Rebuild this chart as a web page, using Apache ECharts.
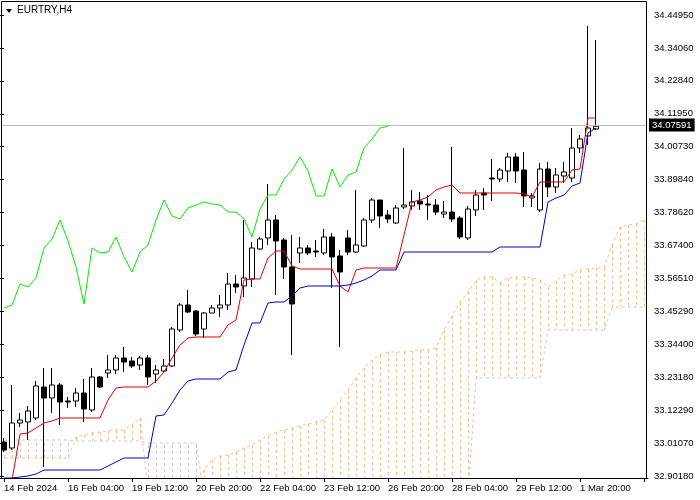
<!DOCTYPE html>
<html>
<head>
<meta charset="utf-8">
<title>EURTRY,H4</title>
<script src="https://cdn.jsdelivr.net/npm/echarts@6/dist/echarts.min.js"></script>
<style>
  html, body { margin: 0; padding: 0; background: #fff; }
  #chart { width: 700px; height: 500px; }
</style>
</head>
<body>
<div id="chart"></div>
<script>
// time axis labels, one every 8 bars (H4)
const tickLabels = ['14 Feb 2024', '16 Feb 04:00', '19 Feb 12:00', '20 Feb 20:00', '22 Feb 04:00',
  '23 Feb 12:00', '26 Feb 20:00', '28 Feb 04:00', '29 Feb 12:00', '1 Mar 20:00']
// price scale labels, bottom to top
const priceTicks = ['32.90180', '33.01070', '33.12290', '33.23180', '33.34400', '33.45290', '33.56510',
  '33.67400', '33.78620', '33.89840', '34.00730', '34.11950', '34.22840', '34.34060', '34.44950']
const lastPrice = 34.07591
const barCount = 81 // 75 candles + room for the shifted cloud

const opens = [33.0160, 32.9958, 33.0797, 33.0831, 33.0965, 33.2006, 33.1637, 33.2073, 33.1536, 33.1536,
  33.1805, 33.1234, 33.2342, 33.2476, 33.2577, 33.2980, 33.2879, 33.2745, 33.2980, 33.2442,
  33.2543, 33.2711, 33.3920, 33.4759, 33.4558, 33.3953, 33.4490, 33.4658, 33.4759, 33.5464,
  33.5397, 33.5632, 33.6639, 33.7008, 33.7613, 33.6941, 33.6035, 33.6505, 33.6673, 33.6572,
  33.6505, 33.7042, 33.6404, 33.7008, 33.6538, 33.6740, 33.7613, 33.8284, 33.7781, 33.7512,
  33.8049, 33.8083, 33.8251, 33.8150, 33.8116, 33.7814, 33.7881, 33.7680, 33.7008, 33.7948,
  33.8519, 33.9023, 33.8989, 33.9258, 33.9728, 33.9291, 33.8351, 33.7948, 33.9325, 33.8721,
  33.9090, 33.9023, 34.0030, 34.0433, 34.0668]
const closes = [32.9891, 33.0797, 33.0898, 33.1200, 33.2040, 33.1637, 33.2073, 33.1502, 33.1502, 33.1805,
  33.1267, 33.2342, 33.2006, 33.2577, 33.2980, 33.2845, 33.2711, 33.2980, 33.2342, 33.2577,
  33.2711, 33.3953, 33.4759, 33.4524, 33.3785, 33.4490, 33.4658, 33.4759, 33.5464, 33.5363,
  33.5666, 33.6673, 33.6975, 33.7613, 33.6908, 33.6035, 33.4793, 33.6673, 33.6505, 33.6538,
  33.7042, 33.6371, 33.5867, 33.6538, 33.6773, 33.7613, 33.8284, 33.7747, 33.7646, 33.8016,
  33.8116, 33.8217, 33.8150, 33.8116, 33.7881, 33.7881, 33.7646, 33.7042, 33.7982, 33.8452,
  33.8452, 33.8989, 33.9291, 33.9728, 33.9258, 33.8418, 33.8418, 33.9325, 33.8721, 33.9124,
  33.9224, 34.0030, 34.0332, 34.0701, 34.07591]
const lows = [32.9824, 32.9891, 33.0663, 33.0227, 33.0898, 32.9320, 33.1133, 33.0730, 33.1301, 33.1335,
  33.0831, 33.1167, 33.1972, 33.2308, 33.2442, 33.2510, 33.2644, 33.2577, 33.2073, 33.2140,
  33.2476, 33.2678, 33.3853, 33.4490, 33.3718, 33.3651, 33.4490, 33.4356, 33.4591, 33.5162,
  33.5028, 33.5363, 33.6606, 33.6773, 33.5095, 33.5632, 33.3080, 33.6169, 33.6438, 33.6371,
  33.6438, 33.5330, 33.3349, 33.6438, 33.6505, 33.6706, 33.7512, 33.7344, 33.7512, 33.7478,
  33.7982, 33.7948, 33.7948, 33.7613, 33.7781, 33.7680, 33.7546, 33.6975, 33.6941, 33.7747,
  33.7948, 33.8251, 33.8889, 33.8889, 33.8855, 33.8049, 33.8049, 33.7881, 33.8385, 33.8519,
  33.8855, 33.8889, 33.9862, 34.0131, 34.0634]
const highs = [33.0294, 33.2073, 33.1133, 33.1368, 33.2207, 33.2644, 33.2644, 33.2140, 33.1670, 33.1972,
  33.2275, 33.2644, 33.2375, 33.3080, 33.3080, 33.3349, 33.3013, 33.3047, 33.3080, 33.2745,
  33.2946, 33.4020, 33.4826, 33.5263, 33.4591, 33.4524, 33.4759, 33.5095, 33.5833, 33.5766,
  33.7613, 33.6874, 33.7042, 33.8821, 33.7781, 33.7008, 33.7109, 33.7042, 33.6773, 33.6941,
  33.7311, 33.7176, 33.6606, 33.7277, 33.8620, 33.7680, 33.8351, 33.8284, 33.7948, 33.8116,
  34.0030, 33.8620, 33.8553, 33.8452, 33.8318, 33.8251, 34.0064, 33.7747, 33.8083, 33.8620,
  33.8687, 33.9661, 33.9359, 33.9862, 33.9862, 33.9896, 33.8519, 33.9526, 33.9560, 33.9359,
  33.9560, 34.0701, 34.0466, 34.4126, 34.3656]

// Ichimoku lines
const tenkan = [32.8380, 32.8884, 33.0428, 33.0462, 33.0630, 33.0797, 33.0865, 33.0965, 33.0965, 33.0965,
  33.0965, 33.0965, 33.0965, 33.1570, 33.1972, 33.2006, 33.2006, 33.2006, 33.2006, 33.2207,
  33.2510, 33.2980, 33.3416, 33.3651, 33.3685, 33.3685, 33.3685, 33.3685, 33.4088, 33.4255,
  33.5598, 33.5632, 33.5632, 33.6337, 33.6572, 33.6572, 33.6068, 33.5968, 33.5968, 33.5968,
  33.5968, 33.5968, 33.5397, 33.5195, 33.5934, 33.6001, 33.6001, 33.6001, 33.6001, 33.6001,
  33.7109, 33.8217, 33.8284, 33.8385, 33.8620, 33.8721, 33.8788, 33.8519, 33.8519, 33.8519,
  33.8519, 33.8519, 33.8519, 33.8519, 33.8519, 33.8486, 33.8385, 33.8889, 33.8889, 33.8889,
  33.8889, 33.9291, 33.9325, 34.1037, 34.1037]
const kijun = [32.8951, 32.8951, 32.8984, 32.9018, 32.9085, 32.9219, 32.9219, 32.9219, 32.9219, 32.9219,
  32.9219, 32.9219, 32.9219, 32.9354, 32.9488, 32.9622, 32.9622, 32.9622, 32.9622, 33.1032,
  33.1066, 33.1469, 33.1905, 33.2207, 33.2275, 33.2275, 33.2275, 33.2275, 33.2510, 33.2577,
  33.3416, 33.4155, 33.4155, 33.4826, 33.4860, 33.4860, 33.5061, 33.5330, 33.5397, 33.5397,
  33.5397, 33.5397, 33.5397, 33.5430, 33.5498, 33.5598, 33.5733, 33.5934, 33.5934, 33.5934,
  33.6538, 33.6538, 33.6538, 33.6538, 33.6538, 33.6538, 33.6538, 33.6538, 33.6538, 33.6538,
  33.6538, 33.6538, 33.6706, 33.6706, 33.6706, 33.6706, 33.6706, 33.6706, 33.8217, 33.8351,
  33.8452, 33.8754, 33.8855, 34.0534, 34.0701]
const chikou = [33.4658, 33.4759, 33.5464, 33.5363, 33.5666, 33.6673, 33.6975, 33.7613, 33.6908, 33.6035,
  33.4793, 33.6673, 33.6505, 33.6538, 33.7042, 33.6371, 33.5867, 33.6538, 33.6773, 33.7613,
  33.8284, 33.7747, 33.7646, 33.8016, 33.8116, 33.8217, 33.8150, 33.8116, 33.7881, 33.7881,
  33.7646, 33.7042, 33.7982, 33.8452, 33.8452, 33.8989, 33.9291, 33.9728, 33.9258, 33.8418,
  33.8418, 33.9325, 33.8721, 33.9124, 33.9224, 34.0030, 34.0332, 34.0701, 34.0759]
const senkouA = [32.9622, 32.9622, 32.9622, 32.9622, 32.9622, 32.9622, 32.9622, 32.9622, 32.9622, 33.0327,
  33.0395, 33.0462, 33.0495, 33.0529, 33.0562, 33.0562, 33.0730, 33.0965, 32.8548, 32.8548,
  32.8548, 32.8548, 32.8548, 32.8548, 32.8548, 32.9219, 32.9555, 32.9689, 32.9723, 32.9824,
  32.9958, 33.0059, 33.0227, 33.0361, 33.0495, 33.0562, 33.0630, 33.0697, 33.0764, 33.0831,
  33.0898, 33.1234, 33.1570, 33.1905, 33.2308, 33.2644, 33.2913, 33.3080, 33.3181, 33.3181,
  33.3181, 33.3215, 33.3248, 33.3248, 33.3315, 33.3920, 33.4390, 33.4860, 33.5195, 33.5598,
  33.5699, 33.5699, 33.5498, 33.5666, 33.5699, 33.5699, 33.5666, 33.5598, 33.5363, 33.5565,
  33.5766, 33.5800, 33.5934, 33.5968, 33.6001, 33.6001, 33.6773, 33.7378, 33.7445, 33.7479,
  33.7613]
const senkouB = [33.0227, 33.0227, 33.0227, 33.0227, 33.0227, 33.0227, 33.0227, 33.0227, 33.0227, 33.0193,
  33.0193, 33.0193, 33.0193, 33.0193, 33.0193, 33.0193, 33.0193, 33.0193, 33.0126, 33.0126,
  33.0126, 33.0126, 33.0126, 33.0126, 33.0126, 32.8380, 32.8380, 32.8380, 32.8380, 32.8380,
  32.8380, 32.8380, 32.8380, 32.8380, 32.8380, 32.8380, 32.8380, 32.8380, 32.8380, 32.8380,
  32.8380, 32.8380, 32.8380, 32.8380, 32.8380, 32.8380, 32.8380, 32.8380, 32.8380, 32.8380,
  32.8380, 32.8380, 32.8380, 32.8380, 32.8380, 32.8380, 32.8380, 32.8380, 32.8380, 33.2308,
  33.2308, 33.2308, 33.2308, 33.2308, 33.2308, 33.2308, 33.2308, 33.2308, 33.3920, 33.3920,
  33.3920, 33.3920, 33.3920, 33.3920, 33.3920, 33.3920, 33.4658, 33.4692, 33.4692, 33.4692,
  33.4692]

const categories = []
for (let i = 0; i < barCount; i++) {
  categories.push(i % 8 === 0 && tickLabels[i / 8] ? tickLabels[i / 8] : '')
}
const candles = opens.map((o, i) => [o, closes[i], lows[i], highs[i]])
const cloud = senkouA.map((a, i) => [i, a, senkouB[i]])

const font = 'Liberation Sans'
const bull = 'rgba(244, 164, 96, 0.7)' // SandyBrown
const bear = 'rgba(200, 180, 200, 0.8)' // Thistle
const chart = echarts.init(document.getElementById('chart'))

chart.setOption({
  animation: false,
  backgroundColor: '#fff',
  textStyle: { fontFamily: font },
  graphic: [
    { type: 'rect', silent: true, z: 100,
      shape: { x: 1.5, y: 1.5, width: 645, height: 477 },
      style: { fill: null, stroke: '#000', lineWidth: 1 } },
    { type: 'polygon', silent: true, z: 100,
      shape: { points: [[6, 9], [12, 9], [9, 13]] },
      style: { fill: '#000' } },
    { type: 'text', silent: true, z: 100, left: 17, top: 5,
      style: { text: 'EURTRY,H4', font: '10px "Liberation Sans"', fill: '#000' } }
  ],
  grid: [
    // price area
    { left: 0, right: 52, top: 1, bottom: 22 },
    // only carries the right price scale labels
    { left: 0, right: 54, top: 15, bottom: 24 }
  ],
  xAxis: [{
    type: 'category',
    gridIndex: 0,
    data: categories,
    boundaryGap: true,
    axisLine: { show: true, lineStyle: { color: '#000' } },
    axisTick: {
      show: true, alignWithLabel: true, length: 4,
      interval: (i) => i % 8 === 0,
      lineStyle: { color: '#000' }
    },
    axisLabel: {
      interval: (i) => i % 8 === 0,
      align: 'left', margin: 5, color: '#000', fontSize: 9.5, fontFamily: font
    },
    splitLine: { show: false }
  }, {
    type: 'value', gridIndex: 1, min: 0, max: 1, show: false
  }],
  yAxis: [{
    type: 'value',
    gridIndex: 0,
    min: 32.89509,
    max: 34.49650,
    show: false,
    splitLine: { show: false }
  }, {
    type: 'value',
    gridIndex: 1,
    position: 'right',
    min: 0,
    max: 14,
    interval: 1,
    axisLine: { show: false },
    axisTick: { show: true, length: 4, lineStyle: { color: '#000' } },
    axisLabel: {
      margin: 8, color: '#000', fontSize: 9.5, fontFamily: font,
      formatter: (v) => priceTicks[Math.round(v)]
    },
    splitLine: { show: false }
  }],
  series: [{
    name: 'Kumo',
    type: 'custom',
    xAxisIndex: 0,
    yAxisIndex: 0,
    clip: true,
    silent: true,
    z: 1,
    encode: { x: 0, y: [1, 2] },
    renderItem(params, api) {
      const a = api.coord([api.value(0), api.value(1)])
      const b = api.coord([api.value(0), api.value(2)])
      const x = Math.round(a[0]) + 0.5
      return {
        type: 'line',
        shape: { x1: x, y1: a[1], x2: x, y2: b[1] },
        style: {
          stroke: api.value(1) > api.value(2) ? bull : bear,
          lineWidth: 1,
          lineDash: [3, 3]
        }
      }
    },
    data: cloud
  }, {
    name: 'Senkou Span A',
    type: 'line',
    z: 2,
    symbol: 'none',
    silent: true,
    lineStyle: { color: bull, width: 1, type: [3, 3] },
    data: senkouA
  }, {
    name: 'Senkou Span B',
    type: 'line',
    z: 2,
    symbol: 'none',
    silent: true,
    lineStyle: { color: bear, width: 1, type: [3, 3] },
    data: senkouB
  }, {
    name: 'EURTRY',
    type: 'candlestick',
    z: 3,
    barWidth: 5,
    silent: true,
    itemStyle: {
      color: '#fff',
      color0: '#000',
      borderColor: '#000',
      borderColor0: '#000',
      borderWidth: 1
    },
    markLine: {
      silent: true,
      symbol: 'none',
      lineStyle: { color: '#c0c0c0', type: 'solid', width: 1 },
      label: {
        position: 'end',
        distance: 1,
        formatter: () => lastPrice.toFixed(5),
        color: '#fff',
        backgroundColor: '#000',
        padding: [2, 3, 1, 3],
        fontSize: 9.5,
        fontFamily: font
      },
      data: [{ yAxis: lastPrice }]
    },
    data: candles
  }, {
    name: 'Tenkan-sen',
    type: 'line',
    z: 4,
    symbol: 'none',
    silent: true,
    lineStyle: { color: '#e00000', width: 1 },
    data: tenkan
  }, {
    name: 'Kijun-sen',
    type: 'line',
    z: 4,
    symbol: 'none',
    silent: true,
    lineStyle: { color: '#0000d0', width: 1 },
    data: kijun
  }, {
    name: 'Chikou Span',
    type: 'line',
    z: 4,
    symbol: 'none',
    silent: true,
    lineStyle: { color: '#00ee00', width: 1 },
    data: chikou
  }]
})
</script>
</body>
</html>
